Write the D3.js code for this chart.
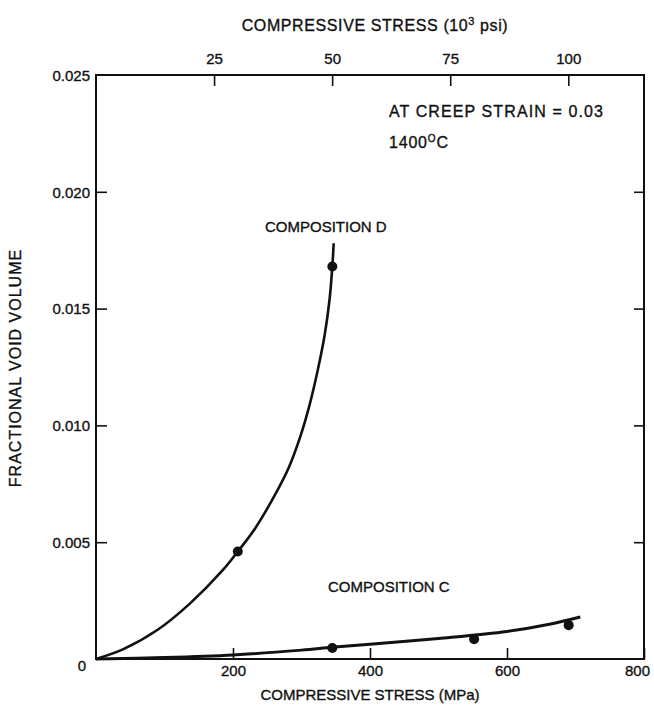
<!DOCTYPE html>
<html>
<head>
<meta charset="utf-8">
<script src="https://cdn.jsdelivr.net/npm/d3@7"></script>
<style>
  html, body { margin: 0; padding: 0; background: #fff; }
  svg { display: block; }
  text { font-family: "Liberation Sans", Arial, Helvetica, sans-serif; fill: #111; stroke: #111; stroke-width: 0.35px; }
</style>
</head>
<body>
<svg id="chart" width="654" height="709"></svg>
<script>
// ---------- data ----------
const xTicksMPa = [200, 400, 600, 800];
const yTicks = [0, 0.005, 0.010, 0.015, 0.020, 0.025];
const yTickLabels = ["0", "0.005", "0.010", "0.015", "0.020", "0.025"];
const topTicksKsi = [25, 50, 75, 100];

// Composition D : measured points and fitted curve
const dPointStress = [207, 345];
const dPointVoid = [0.0046, 0.0168];
const dCurveStress = [0, 40, 90, 137, 185, 207, 232, 257, 280, 298, 312, 324, 334, 341, 345, 347];
const dCurveVoid = [0, 0.00042, 0.00125, 0.00237, 0.0038, 0.0046, 0.00558, 0.0068, 0.0081, 0.0095, 0.0109, 0.0124, 0.0139, 0.0154, 0.0168, 0.0178];

// Composition C : measured points and fitted curve
const cPointStress = [345, 552, 690];
const cPointVoid = [0.00047, 0.00085, 0.00145];
const cCurveStress = [0, 100, 200, 300, 345, 400, 500, 600, 660, 707];
const cCurveVoid = [0, 0.00006, 0.00017, 0.00038, 0.0005, 0.00063, 0.00088, 0.00118, 0.00148, 0.0018];

const MPA_PER_KSI = 6.894757;

// ---------- layout ----------
const svg = d3.select("#chart");
const L = 96, R = 644, T = 75, B = 659;

const x = d3.scaleLinear().domain([0, 800]).range([L, R]);
const xTop = d3.scaleLinear().domain([0, 800 / MPA_PER_KSI]).range([L, R]);
const y = d3.scaleLinear().domain([0, 0.025]).range([B, T]);

// frame
svg.append("rect")
  .attr("x", L).attr("y", T).attr("width", R - L).attr("height", B - T)
  .attr("fill", "none").attr("stroke", "#111").attr("stroke-width", 2);

// ---------- axes ----------
const fontSize = 15;

// bottom axis (ticks inward)
const bottomAxis = d3.axisBottom(x).tickValues(xTicksMPa).tickSizeInner(-11).tickSizeOuter(0).tickPadding(0);
const gB = svg.append("g").attr("transform", `translate(0,${B})`).call(bottomAxis);
gB.select(".domain").remove();
gB.selectAll(".tick line").attr("stroke", "#111").attr("stroke-width", 1.6);
gB.selectAll(".tick text")
  .attr("y", 0).attr("dy", null)
  .attr("transform", "translate(0,17)")
  .attr("dx", d => d === 800 ? -7 : 0)
  .style("font-size", fontSize + "px");

// top axis (ticks inward)
const topAxis = d3.axisTop(xTop).tickValues(topTicksKsi).tickSizeInner(-11).tickSizeOuter(0).tickPadding(0);
const gT = svg.append("g").attr("transform", `translate(0,${T})`).call(topAxis);
gT.select(".domain").remove();
gT.selectAll(".tick line").attr("stroke", "#111").attr("stroke-width", 1.6);
gT.selectAll(".tick text")
  .attr("y", -11).attr("dy", null)
  .style("font-size", fontSize + "px");

// left axis (ticks inward)
const leftAxis = d3.axisLeft(y).tickValues(yTicks).tickFormat((d, i) => yTickLabels[i])
  .tickSizeInner(-11).tickSizeOuter(0).tickPadding(0);
const gL = svg.append("g").attr("transform", `translate(${L},0)`).call(leftAxis);
gL.select(".domain").remove();
gL.selectAll(".tick line").attr("stroke", "#111").attr("stroke-width", 1.6)
  .attr("display", d => (d === 0 || d === 0.025) ? "none" : null);
gL.selectAll(".tick text")
  .attr("x", -6).attr("dy", "0.35em")
  .attr("transform", d => d === 0 ? "translate(-4,6)" : null)
  .style("font-size", fontSize + "px");

// right axis (ticks inward, no labels)
const rightAxis = d3.axisRight(y).tickValues(yTicks.filter(v => v > 0 && v < 0.025))
  .tickFormat("").tickSizeInner(-10).tickSizeOuter(0);
const gR = svg.append("g").attr("transform", `translate(${R},0)`).call(rightAxis);
gR.select(".domain").remove();
gR.selectAll(".tick line").attr("stroke", "#111").attr("stroke-width", 1.6);

// ---------- axis titles ----------
const topTitle = svg.append("text")
  .attr("x", 375).attr("y", 31).attr("text-anchor", "middle")
  .style("font-size", "16px").style("letter-spacing", "0.6px");
topTitle.append("tspan").text("COMPRESSIVE STRESS (10");
topTitle.append("tspan").attr("dy", -6).style("font-size", "11px").text("3");
topTitle.append("tspan").attr("dy", 6).text(" psi)");

svg.append("text")
  .attr("x", 370).attr("y", 700).attr("text-anchor", "middle")
  .style("font-size", "15px")
  .text("COMPRESSIVE STRESS (MPa)");

svg.append("text")
  .attr("transform", "translate(21,368) rotate(-90)")
  .attr("text-anchor", "middle")
  .style("font-size", "16px").style("letter-spacing", "1px")
  .text("FRACTIONAL VOID VOLUME");

// ---------- curves ----------
const line = d3.line()
  .x(d => x(d[0])).y(d => y(d[1]))
  .curve(d3.curveCatmullRom.alpha(0.5));

const dCurve = dCurveStress.map((s, i) => [s, dCurveVoid[i]]);
const cCurve = cCurveStress.map((s, i) => [s, cCurveVoid[i]]);

svg.append("path").datum(dCurve).attr("d", line)
  .attr("fill", "none").attr("stroke", "#111").attr("stroke-width", 2.6);
svg.append("path").datum(cCurve).attr("d", line)
  .attr("fill", "none").attr("stroke", "#111").attr("stroke-width", 3);

// ---------- points ----------
const dPts = dPointStress.map((s, i) => [s, dPointVoid[i]]);
const cPts = cPointStress.map((s, i) => [s, cPointVoid[i]]);
svg.selectAll(".dpt").data(dPts).enter().append("circle")
  .attr("cx", d => x(d[0])).attr("cy", d => y(d[1])).attr("r", 5).attr("fill", "#111");
svg.selectAll(".cpt").data(cPts).enter().append("circle")
  .attr("cx", d => x(d[0])).attr("cy", d => y(d[1])).attr("r", 5).attr("fill", "#111");

// ---------- annotations ----------
svg.append("text").attr("x", 265).attr("y", 232)
  .style("font-size", "15px")
  .text("COMPOSITION D");
svg.append("text").attr("x", 328).attr("y", 592)
  .style("font-size", "15px")
  .text("COMPOSITION C");

svg.append("text").attr("x", 389).attr("y", 117)
  .style("font-size", "16px").style("letter-spacing", "1.1px")
  .text("AT CREEP STRAIN = 0.03");
const tempLabel = svg.append("text").attr("x", 389).attr("y", 148)
  .style("font-size", "16px").style("letter-spacing", "0.8px");
tempLabel.append("tspan").text("1400");
tempLabel.append("tspan").attr("dy", -6).style("font-size", "10px").text("O");
tempLabel.append("tspan").attr("dy", 6).text("C");
</script>
</body>
</html>
